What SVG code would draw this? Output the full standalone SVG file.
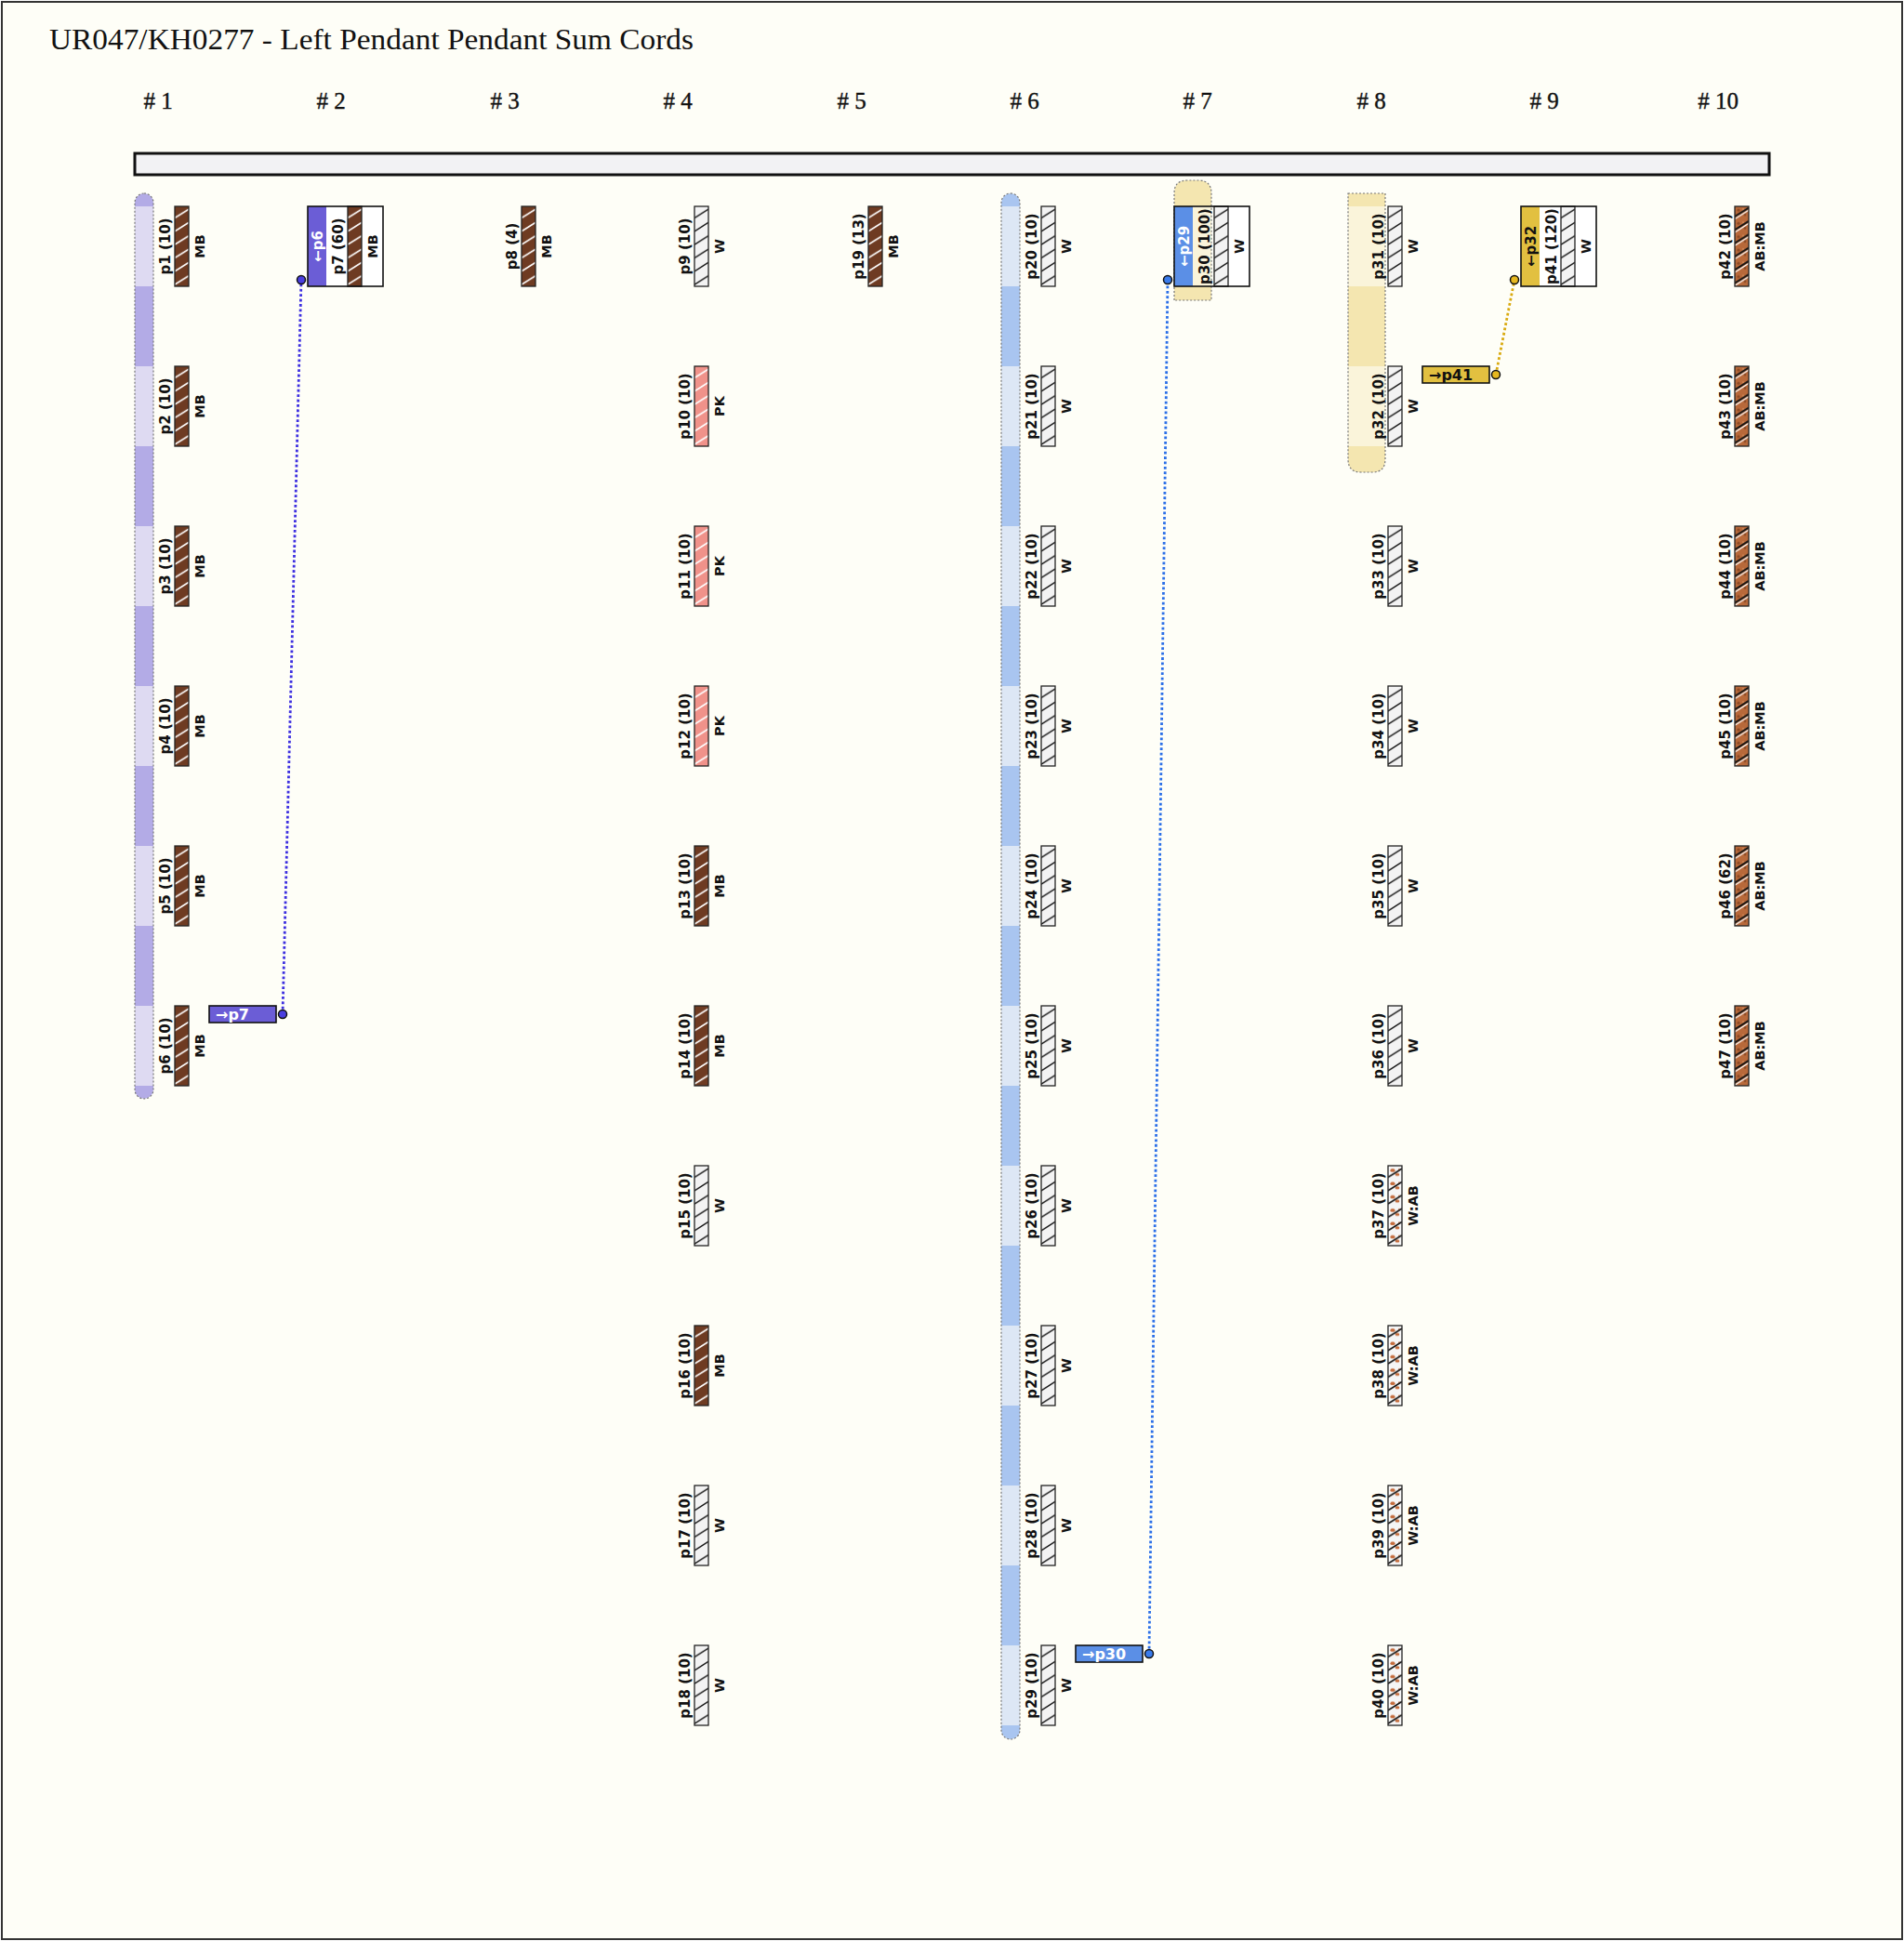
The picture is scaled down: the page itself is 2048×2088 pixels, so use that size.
<svg xmlns="http://www.w3.org/2000/svg" width="2048" height="2088" viewBox="0 0 2048 2088">
<style>
.lbl{font-family:"DejaVu Sans",sans-serif;font-weight:bold;font-size:15px;fill:#111;text-anchor:middle}
.code{font-family:"DejaVu Sans",sans-serif;font-weight:bold;font-size:14.5px;fill:#111;text-anchor:middle}
.hdr{font-family:"Liberation Serif",serif;font-size:25px;fill:#111;text-anchor:middle;stroke:#111;stroke-width:0.4}
.cord{stroke:#222;stroke-width:1.3}
.box{fill:none;stroke:#111;stroke-width:1.6}
.tag{stroke:#111;stroke-width:1.6}
.tagt{font-family:"DejaVu Sans",sans-serif;font-weight:bold;font-size:16px}
.strt{font-family:"DejaVu Sans",sans-serif;font-weight:bold;font-size:15px;text-anchor:middle}
.bandline{fill:none;stroke:#777;stroke-width:1.2;stroke-dasharray:2 2}
.dot{stroke:#111;stroke-width:1.5}
</style>
<defs>
<pattern id="pMB" patternUnits="objectBoundingBox" width="1" height="0.1666667">
<rect width="16" height="15" fill="#6e3b22"/>
<path d="M0,12.5 L15,3" stroke="#fff" stroke-width="1.7"/>
</pattern>
<pattern id="pW" patternUnits="objectBoundingBox" width="1" height="0.1666667">
<rect width="16" height="15" fill="#f3f3f3"/>
<path d="M0,12.5 L15,3" stroke="#111" stroke-width="1.5"/>
</pattern>
<pattern id="pPK" patternUnits="objectBoundingBox" width="1" height="0.1666667">
<rect width="16" height="15" fill="#f0928a"/>
<path d="M0,12.5 L15,3" stroke="#fff" stroke-width="1.7"/>
</pattern>
<pattern id="pABMB" patternUnits="objectBoundingBox" width="1" height="0.1666667">
<rect width="16" height="15" fill="#b8693a"/>
<circle cx="4" cy="4" r="1.6" fill="#8c4a25"/>
<circle cx="11" cy="9" r="1.4" fill="#8c4a25"/>
<circle cx="9" cy="3" r="1" fill="#d48a58"/>
<circle cx="3" cy="10" r="1.1" fill="#d48a58"/>
<path d="M0,11 L15,1.5" stroke="#111" stroke-width="1.9"/>
<path d="M0,13.6 L15,4.1" stroke="#fff" stroke-width="1.3"/>
</pattern>
<pattern id="pWAB" patternUnits="objectBoundingBox" width="1" height="0.1666667">
<rect width="16" height="15" fill="#f5f5f5"/>
<ellipse cx="5" cy="5" rx="2.6" ry="1.8" fill="#c46a3a"/>
<ellipse cx="10" cy="9.5" rx="2.4" ry="1.6" fill="#c46a3a"/>
<circle cx="12" cy="4" r="1" fill="#c46a3a"/>
<path d="M0,12.5 L15,3" stroke="#111" stroke-width="1.7"/>
</pattern>
<clipPath id="cb1"><rect x="145" y="208" width="20" height="974" rx="10" ry="10"/></clipPath>
<clipPath id="cb6"><rect x="1077" y="208" width="20" height="1663" rx="10" ry="10"/></clipPath>
<clipPath id="cb7"><path d="M1263,323 V208 Q1263,194 1277,194 H1289 Q1303,194 1303,208 V323 Z"/></clipPath>
<clipPath id="cb8"><path d="M1450,208 H1490 V494 Q1490,508 1476,508 H1464 Q1450,508 1450,494 Z"/></clipPath>
</defs>
<rect x="2" y="2" width="2044" height="2084" fill="#fefef7" stroke="#333" stroke-width="2"/>
<text x="53" y="53" font-family="Liberation Serif, serif" font-size="32" fill="#111" textLength="693" lengthAdjust="spacingAndGlyphs">UR047/KH0277 - Left Pendant Pendant Sum Cords</text>
<g id="headers">
<text class="hdr" x="170" y="117"># 1</text>
<text class="hdr" x="356" y="117"># 2</text>
<text class="hdr" x="543" y="117"># 3</text>
<text class="hdr" x="729" y="117"># 4</text>
<text class="hdr" x="916" y="117"># 5</text>
<text class="hdr" x="1102" y="117"># 6</text>
<text class="hdr" x="1288" y="117"># 7</text>
<text class="hdr" x="1475" y="117"># 8</text>
<text class="hdr" x="1661" y="117"># 9</text>
<text class="hdr" x="1848" y="117"># 10</text>
</g>
<rect id="primary" x="145" y="165" width="1758" height="23" fill="#f2f2f4" stroke="#111" stroke-width="3"/>
<g id="bands">
<g clip-path="url(#cb1)">
<rect x="145" y="208" width="20" height="974" fill="#b3abe6"/>
<rect x="145" y="222" width="20" height="86" fill="#dedaf2"/>
<rect x="145" y="394" width="20" height="86" fill="#dedaf2"/>
<rect x="145" y="566" width="20" height="86" fill="#dedaf2"/>
<rect x="145" y="738" width="20" height="86" fill="#dedaf2"/>
<rect x="145" y="910" width="20" height="86" fill="#dedaf2"/>
<rect x="145" y="1082" width="20" height="86" fill="#dedaf2"/>
</g>
<rect class="bandline" x="145" y="208" width="20" height="974" rx="10" ry="10"/>
<g clip-path="url(#cb6)">
<rect x="1077" y="208" width="20" height="1663" fill="#a9c5f0"/>
<rect x="1077" y="222" width="20" height="86" fill="#dde7f5"/>
<rect x="1077" y="394" width="20" height="86" fill="#dde7f5"/>
<rect x="1077" y="566" width="20" height="86" fill="#dde7f5"/>
<rect x="1077" y="738" width="20" height="86" fill="#dde7f5"/>
<rect x="1077" y="910" width="20" height="86" fill="#dde7f5"/>
<rect x="1077" y="1082" width="20" height="86" fill="#dde7f5"/>
<rect x="1077" y="1254" width="20" height="86" fill="#dde7f5"/>
<rect x="1077" y="1426" width="20" height="86" fill="#dde7f5"/>
<rect x="1077" y="1598" width="20" height="86" fill="#dde7f5"/>
<rect x="1077" y="1770" width="20" height="86" fill="#dde7f5"/>
</g>
<rect class="bandline" x="1077" y="208" width="20" height="1663" rx="10" ry="10"/>
<g clip-path="url(#cb7)">
<rect x="1263" y="194" width="40" height="129" fill="#f4e6b0"/>
<rect x="1263" y="222" width="40" height="86" fill="#faf4da"/>
</g>
<path class="bandline" d="M1263,323 V208 Q1263,194 1277,194 H1289 Q1303,194 1303,208 V323 Z"/>
<g clip-path="url(#cb8)">
<rect x="1450" y="208" width="40" height="300" fill="#f4e6b0"/>
<rect x="1450" y="222" width="40" height="86" fill="#faf4da"/>
<rect x="1450" y="394" width="40" height="86" fill="#faf4da"/>
</g>
<path class="bandline" d="M1450,208 H1490 V494 Q1490,508 1476,508 H1464 Q1450,508 1450,494 Z"/>
</g>
<g id="connectors">
<path d="M304,1091 L324,301" stroke="#3d2fe0" stroke-width="2.8" stroke-dasharray="2.8 2.6" fill="none"/>
<path d="M1236,1779 L1256,301" stroke="#2b6fe8" stroke-width="2.8" stroke-dasharray="2.8 2.6" fill="none"/>
<path d="M1609,403 L1629,301" stroke="#d9aa10" stroke-width="2.8" stroke-dasharray="2.8 2.6" fill="none"/>
<circle class="dot" cx="304" cy="1091" r="4.5" fill="#4a3ee0"/>
<circle class="dot" cx="324" cy="301" r="4.5" fill="#4a3ee0"/>
<circle class="dot" cx="1236" cy="1779" r="4.5" fill="#3a7cec"/>
<circle class="dot" cx="1256" cy="301" r="4.5" fill="#3a7cec"/>
<circle class="dot" cx="1609" cy="403" r="4.5" fill="#e6b820"/>
<circle class="dot" cx="1629" cy="301" r="4.5" fill="#e6b820"/>
</g>
<g id="c1">
<g id="p1"><rect class="cord" x="188" y="222" width="15" height="86" fill="url(#pMB)"/><text class="lbl" transform="translate(183,265) rotate(-90)">p1 (10)</text><text class="code" transform="translate(220,265) rotate(-90)">MB</text></g>
<g id="p2"><rect class="cord" x="188" y="394" width="15" height="86" fill="url(#pMB)"/><text class="lbl" transform="translate(183,437) rotate(-90)">p2 (10)</text><text class="code" transform="translate(220,437) rotate(-90)">MB</text></g>
<g id="p3"><rect class="cord" x="188" y="566" width="15" height="86" fill="url(#pMB)"/><text class="lbl" transform="translate(183,609) rotate(-90)">p3 (10)</text><text class="code" transform="translate(220,609) rotate(-90)">MB</text></g>
<g id="p4"><rect class="cord" x="188" y="738" width="15" height="86" fill="url(#pMB)"/><text class="lbl" transform="translate(183,781) rotate(-90)">p4 (10)</text><text class="code" transform="translate(220,781) rotate(-90)">MB</text></g>
<g id="p5"><rect class="cord" x="188" y="910" width="15" height="86" fill="url(#pMB)"/><text class="lbl" transform="translate(183,953) rotate(-90)">p5 (10)</text><text class="code" transform="translate(220,953) rotate(-90)">MB</text></g>
<g id="p6"><rect class="cord" x="188" y="1082" width="15" height="86" fill="url(#pMB)"/><text class="lbl" transform="translate(183,1125) rotate(-90)">p6 (10)</text><text class="code" transform="translate(220,1125) rotate(-90)">MB</text>
<rect class="tag" x="225" y="1082" width="72" height="18" fill="#6b5dd6"/><text class="tagt" x="232" y="1097" fill="#fff">→p7</text></g>
</g>
<g id="c2">
<g id="p7"><rect x="351" y="222" width="61" height="86" fill="#fff"/><rect x="331" y="222" width="20" height="86" fill="#6b5dd6"/><text class="strt" fill="#fff" transform="translate(346.5,265) rotate(-90)">←p6</text><rect class="cord" x="374" y="222" width="15" height="86" fill="url(#pMB)"/><text class="lbl" transform="translate(369,265) rotate(-90)">p7 (60)</text><text class="code" transform="translate(406,265) rotate(-90)">MB</text><rect class="box" x="331" y="222" width="81" height="86"/></g>
</g>
<g id="c3">
<g id="p8"><rect class="cord" x="561" y="222" width="15" height="86" fill="url(#pMB)"/><text class="lbl" transform="translate(556,265) rotate(-90)">p8 (4)</text><text class="code" transform="translate(593,265) rotate(-90)">MB</text></g>
</g>
<g id="c4">
<g id="p9"><rect class="cord" x="747" y="222" width="15" height="86" fill="url(#pW)"/><text class="lbl" transform="translate(742,265) rotate(-90)">p9 (10)</text><text class="code" transform="translate(779,265) rotate(-90)">W</text></g>
<g id="p10"><rect class="cord" x="747" y="394" width="15" height="86" fill="url(#pPK)"/><text class="lbl" transform="translate(742,437) rotate(-90)">p10 (10)</text><text class="code" transform="translate(779,437) rotate(-90)">PK</text></g>
<g id="p11"><rect class="cord" x="747" y="566" width="15" height="86" fill="url(#pPK)"/><text class="lbl" transform="translate(742,609) rotate(-90)">p11 (10)</text><text class="code" transform="translate(779,609) rotate(-90)">PK</text></g>
<g id="p12"><rect class="cord" x="747" y="738" width="15" height="86" fill="url(#pPK)"/><text class="lbl" transform="translate(742,781) rotate(-90)">p12 (10)</text><text class="code" transform="translate(779,781) rotate(-90)">PK</text></g>
<g id="p13"><rect class="cord" x="747" y="910" width="15" height="86" fill="url(#pMB)"/><text class="lbl" transform="translate(742,953) rotate(-90)">p13 (10)</text><text class="code" transform="translate(779,953) rotate(-90)">MB</text></g>
<g id="p14"><rect class="cord" x="747" y="1082" width="15" height="86" fill="url(#pMB)"/><text class="lbl" transform="translate(742,1125) rotate(-90)">p14 (10)</text><text class="code" transform="translate(779,1125) rotate(-90)">MB</text></g>
<g id="p15"><rect class="cord" x="747" y="1254" width="15" height="86" fill="url(#pW)"/><text class="lbl" transform="translate(742,1297) rotate(-90)">p15 (10)</text><text class="code" transform="translate(779,1297) rotate(-90)">W</text></g>
<g id="p16"><rect class="cord" x="747" y="1426" width="15" height="86" fill="url(#pMB)"/><text class="lbl" transform="translate(742,1469) rotate(-90)">p16 (10)</text><text class="code" transform="translate(779,1469) rotate(-90)">MB</text></g>
<g id="p17"><rect class="cord" x="747" y="1598" width="15" height="86" fill="url(#pW)"/><text class="lbl" transform="translate(742,1641) rotate(-90)">p17 (10)</text><text class="code" transform="translate(779,1641) rotate(-90)">W</text></g>
<g id="p18"><rect class="cord" x="747" y="1770" width="15" height="86" fill="url(#pW)"/><text class="lbl" transform="translate(742,1813) rotate(-90)">p18 (10)</text><text class="code" transform="translate(779,1813) rotate(-90)">W</text></g>
</g>
<g id="c5">
<g id="p19"><rect class="cord" x="934" y="222" width="15" height="86" fill="url(#pMB)"/><text class="lbl" transform="translate(929,265) rotate(-90)">p19 (13)</text><text class="code" transform="translate(966,265) rotate(-90)">MB</text></g>
</g>
<g id="c6">
<g id="p20"><rect class="cord" x="1120" y="222" width="15" height="86" fill="url(#pW)"/><text class="lbl" transform="translate(1115,265) rotate(-90)">p20 (10)</text><text class="code" transform="translate(1152,265) rotate(-90)">W</text></g>
<g id="p21"><rect class="cord" x="1120" y="394" width="15" height="86" fill="url(#pW)"/><text class="lbl" transform="translate(1115,437) rotate(-90)">p21 (10)</text><text class="code" transform="translate(1152,437) rotate(-90)">W</text></g>
<g id="p22"><rect class="cord" x="1120" y="566" width="15" height="86" fill="url(#pW)"/><text class="lbl" transform="translate(1115,609) rotate(-90)">p22 (10)</text><text class="code" transform="translate(1152,609) rotate(-90)">W</text></g>
<g id="p23"><rect class="cord" x="1120" y="738" width="15" height="86" fill="url(#pW)"/><text class="lbl" transform="translate(1115,781) rotate(-90)">p23 (10)</text><text class="code" transform="translate(1152,781) rotate(-90)">W</text></g>
<g id="p24"><rect class="cord" x="1120" y="910" width="15" height="86" fill="url(#pW)"/><text class="lbl" transform="translate(1115,953) rotate(-90)">p24 (10)</text><text class="code" transform="translate(1152,953) rotate(-90)">W</text></g>
<g id="p25"><rect class="cord" x="1120" y="1082" width="15" height="86" fill="url(#pW)"/><text class="lbl" transform="translate(1115,1125) rotate(-90)">p25 (10)</text><text class="code" transform="translate(1152,1125) rotate(-90)">W</text></g>
<g id="p26"><rect class="cord" x="1120" y="1254" width="15" height="86" fill="url(#pW)"/><text class="lbl" transform="translate(1115,1297) rotate(-90)">p26 (10)</text><text class="code" transform="translate(1152,1297) rotate(-90)">W</text></g>
<g id="p27"><rect class="cord" x="1120" y="1426" width="15" height="86" fill="url(#pW)"/><text class="lbl" transform="translate(1115,1469) rotate(-90)">p27 (10)</text><text class="code" transform="translate(1152,1469) rotate(-90)">W</text></g>
<g id="p28"><rect class="cord" x="1120" y="1598" width="15" height="86" fill="url(#pW)"/><text class="lbl" transform="translate(1115,1641) rotate(-90)">p28 (10)</text><text class="code" transform="translate(1152,1641) rotate(-90)">W</text></g>
<g id="p29"><rect class="cord" x="1120" y="1770" width="15" height="86" fill="url(#pW)"/><text class="lbl" transform="translate(1115,1813) rotate(-90)">p29 (10)</text><text class="code" transform="translate(1152,1813) rotate(-90)">W</text>
<rect class="tag" x="1157" y="1770" width="72" height="18" fill="#5b8fe6"/><text class="tagt" x="1164" y="1785" fill="#fff">→p30</text></g>
</g>
<g id="c7">
<g id="p30"><rect x="1321" y="222" width="23" height="86" fill="#fff"/><rect x="1263" y="222" width="20" height="86" fill="#5b8fe6"/><text class="strt" fill="#fff" transform="translate(1278.5,265) rotate(-90)">←p29</text><rect class="cord" x="1306" y="222" width="15" height="86" fill="url(#pW)"/><text class="lbl" transform="translate(1301,265) rotate(-90)">p30 (100)</text><text class="code" transform="translate(1338,265) rotate(-90)">W</text><rect class="box" x="1263" y="222" width="81" height="86"/></g>
</g>
<g id="c8">
<g id="p31"><rect class="cord" x="1493" y="222" width="15" height="86" fill="url(#pW)"/><text class="lbl" transform="translate(1488,265) rotate(-90)">p31 (10)</text><text class="code" transform="translate(1525,265) rotate(-90)">W</text></g>
<g id="p32"><rect class="cord" x="1493" y="394" width="15" height="86" fill="url(#pW)"/><text class="lbl" transform="translate(1488,437) rotate(-90)">p32 (10)</text><text class="code" transform="translate(1525,437) rotate(-90)">W</text>
<rect class="tag" x="1530" y="394" width="72" height="18" fill="#e2c040"/><text class="tagt" x="1537" y="409" fill="#111">→p41</text></g>
<g id="p33"><rect class="cord" x="1493" y="566" width="15" height="86" fill="url(#pW)"/><text class="lbl" transform="translate(1488,609) rotate(-90)">p33 (10)</text><text class="code" transform="translate(1525,609) rotate(-90)">W</text></g>
<g id="p34"><rect class="cord" x="1493" y="738" width="15" height="86" fill="url(#pW)"/><text class="lbl" transform="translate(1488,781) rotate(-90)">p34 (10)</text><text class="code" transform="translate(1525,781) rotate(-90)">W</text></g>
<g id="p35"><rect class="cord" x="1493" y="910" width="15" height="86" fill="url(#pW)"/><text class="lbl" transform="translate(1488,953) rotate(-90)">p35 (10)</text><text class="code" transform="translate(1525,953) rotate(-90)">W</text></g>
<g id="p36"><rect class="cord" x="1493" y="1082" width="15" height="86" fill="url(#pW)"/><text class="lbl" transform="translate(1488,1125) rotate(-90)">p36 (10)</text><text class="code" transform="translate(1525,1125) rotate(-90)">W</text></g>
<g id="p37"><rect class="cord" x="1493" y="1254" width="15" height="86" fill="url(#pWAB)"/><text class="lbl" transform="translate(1488,1297) rotate(-90)">p37 (10)</text><text class="code" transform="translate(1525,1297) rotate(-90)">W:AB</text></g>
<g id="p38"><rect class="cord" x="1493" y="1426" width="15" height="86" fill="url(#pWAB)"/><text class="lbl" transform="translate(1488,1469) rotate(-90)">p38 (10)</text><text class="code" transform="translate(1525,1469) rotate(-90)">W:AB</text></g>
<g id="p39"><rect class="cord" x="1493" y="1598" width="15" height="86" fill="url(#pWAB)"/><text class="lbl" transform="translate(1488,1641) rotate(-90)">p39 (10)</text><text class="code" transform="translate(1525,1641) rotate(-90)">W:AB</text></g>
<g id="p40"><rect class="cord" x="1493" y="1770" width="15" height="86" fill="url(#pWAB)"/><text class="lbl" transform="translate(1488,1813) rotate(-90)">p40 (10)</text><text class="code" transform="translate(1525,1813) rotate(-90)">W:AB</text></g>
</g>
<g id="c9">
<g id="p41"><rect x="1656" y="222" width="61" height="86" fill="#fff"/><rect x="1636" y="222" width="20" height="86" fill="#e2c040"/><text class="strt" fill="#111" transform="translate(1651.5,265) rotate(-90)">←p32</text><rect class="cord" x="1679" y="222" width="15" height="86" fill="url(#pW)"/><text class="lbl" transform="translate(1674,265) rotate(-90)">p41 (120)</text><text class="code" transform="translate(1711,265) rotate(-90)">W</text><rect class="box" x="1636" y="222" width="81" height="86"/></g>
</g>
<g id="c10">
<g id="p42"><rect class="cord" x="1866" y="222" width="15" height="86" fill="url(#pABMB)"/><text class="lbl" transform="translate(1861,265) rotate(-90)">p42 (10)</text><text class="code" transform="translate(1898,265) rotate(-90)">AB:MB</text></g>
<g id="p43"><rect class="cord" x="1866" y="394" width="15" height="86" fill="url(#pABMB)"/><text class="lbl" transform="translate(1861,437) rotate(-90)">p43 (10)</text><text class="code" transform="translate(1898,437) rotate(-90)">AB:MB</text></g>
<g id="p44"><rect class="cord" x="1866" y="566" width="15" height="86" fill="url(#pABMB)"/><text class="lbl" transform="translate(1861,609) rotate(-90)">p44 (10)</text><text class="code" transform="translate(1898,609) rotate(-90)">AB:MB</text></g>
<g id="p45"><rect class="cord" x="1866" y="738" width="15" height="86" fill="url(#pABMB)"/><text class="lbl" transform="translate(1861,781) rotate(-90)">p45 (10)</text><text class="code" transform="translate(1898,781) rotate(-90)">AB:MB</text></g>
<g id="p46"><rect class="cord" x="1866" y="910" width="15" height="86" fill="url(#pABMB)"/><text class="lbl" transform="translate(1861,953) rotate(-90)">p46 (62)</text><text class="code" transform="translate(1898,953) rotate(-90)">AB:MB</text></g>
<g id="p47"><rect class="cord" x="1866" y="1082" width="15" height="86" fill="url(#pABMB)"/><text class="lbl" transform="translate(1861,1125) rotate(-90)">p47 (10)</text><text class="code" transform="translate(1898,1125) rotate(-90)">AB:MB</text></g>
</g>
</svg>
